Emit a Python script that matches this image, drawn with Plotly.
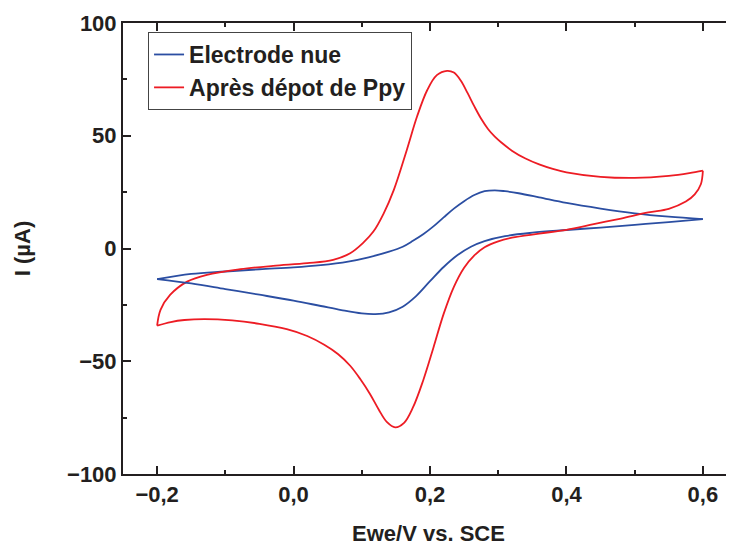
import plotly.graph_objects as go

# Electrode nue (blue) - forward sweep (-0.2 -> 0.6)
blue_fwd_x = [-0.2, -0.15, -0.1, -0.05, 0.0, 0.04, 0.08, 0.11, 0.14, 0.16, 0.175, 0.19, 0.205, 0.22, 0.235, 0.25, 0.265, 0.28, 0.295, 0.31, 0.33, 0.36, 0.40, 0.45, 0.50, 0.55, 0.6]
blue_fwd_y = [-13.6, -11.3, -10.2, -9.2, -8.4, -7.4, -5.8, -3.9, -1.4, 0.8, 3.4, 6.3, 9.8, 13.8, 17.7, 21.0, 23.7, 25.4, 25.8, 25.4, 24.5, 22.7, 20.2, 17.7, 15.6, 14.1, 13.0]
# Electrode nue (blue) - reverse sweep (0.6 -> -0.2)
blue_rev_x = [0.6, 0.55, 0.50, 0.45, 0.40, 0.35, 0.31, 0.28, 0.26, 0.24, 0.22, 0.20, 0.18, 0.16, 0.14, 0.12, 0.10, 0.07, 0.04, 0.0, -0.05, -0.10, -0.15, -0.2]
blue_rev_y = [13.0, 11.7, 10.5, 9.3, 8.2, 7.0, 5.5, 3.3, 0.8, -3.0, -8.2, -14.5, -21.0, -25.8, -28.3, -29.1, -28.8, -27.3, -25.5, -23.1, -20.5, -18.0, -15.5, -13.6]

# Après dépot de Ppy (red) - forward sweep
red_fwd_x = [-0.2, -0.195, -0.181, -0.156, -0.127, -0.078, -0.030, 0.020, 0.058, 0.083, 0.102, 0.117, 0.132, 0.147, 0.166, 0.181, 0.196, 0.210, 0.225, 0.235, 0.245, 0.255, 0.265, 0.275, 0.285, 0.295, 0.305, 0.32, 0.34, 0.36, 0.38, 0.40, 0.45, 0.50, 0.55, 0.58, 0.6]
red_fwd_y = [-34.2, -27.2, -20.6, -14.7, -11.7, -9.2, -7.7, -6.5, -5.0, -2.1, 2.5, 7.5, 15.5, 26.0, 43.7, 58.5, 70.3, 76.9, 78.8, 78.0, 74.5, 69.0, 63.0, 57.5, 53.0, 49.6, 46.9, 43.4, 39.9, 37.3, 35.3, 33.8, 31.8, 31.3, 32.2, 33.4, 34.5]
# Après dépot de Ppy (red) - reverse sweep
red_rev_x = [0.6, 0.597, 0.588, 0.575, 0.55, 0.52, 0.48, 0.44, 0.40, 0.36, 0.32, 0.30, 0.28, 0.265, 0.25, 0.235, 0.22, 0.205, 0.19, 0.175, 0.162, 0.149, 0.137, 0.125, 0.112, 0.098, 0.083, 0.065, 0.045, 0.02, -0.01, -0.05, -0.09, -0.13, -0.16, -0.18, -0.2]
red_rev_y = [34.5, 28.5, 24.0, 20.8, 17.6, 16.0, 13.3, 10.8, 8.3, 6.6, 4.8, 3.2, 0.6, -3.0, -8.5, -17.0, -29.0, -44.0, -58.5, -70.5, -77.3, -79.3, -77.0, -71.5, -64.5, -58.0, -52.0, -46.8, -42.7, -38.8, -35.8, -33.4, -31.9, -31.3, -31.7, -32.6, -34.2]

BLUE = "#2b4ea2"
RED = "#ed1c24"
AXC = "#231f20"
FONT = "Liberation Sans, Arial, sans-serif"
LW = 1.8

fig = go.Figure()
fig.add_trace(go.Scatter(x=blue_fwd_x, y=blue_fwd_y, mode="lines", name="Electrode nue",
                         line=dict(color=BLUE, width=LW, shape="spline", smoothing=1.0)))
fig.add_trace(go.Scatter(x=red_fwd_x, y=red_fwd_y, mode="lines", name="Après dépot de Ppy",
                         line=dict(color=RED, width=LW, shape="spline", smoothing=1.0)))
fig.add_trace(go.Scatter(x=blue_rev_x, y=blue_rev_y, mode="lines", name="Electrode nue",
                         showlegend=False,
                         line=dict(color=BLUE, width=LW, shape="spline", smoothing=1.0)))
fig.add_trace(go.Scatter(x=red_rev_x, y=red_rev_y, mode="lines", name="Après dépot de Ppy",
                         showlegend=False,
                         line=dict(color=RED, width=LW, shape="spline", smoothing=1.0)))

fig.update_layout(
    width=726, height=538,
    margin=dict(l=115, r=0, t=15, b=72, autoexpand=False),
    paper_bgcolor="white", plot_bgcolor="white",
    separators=", ",
    font=dict(family=FONT, size=22, color=AXC, weight="bold"),
    legend=dict(x=0.041, y=0.980, xanchor="left", yanchor="top",
                bordercolor="#444444", borderwidth=1, bgcolor="white",
                font=dict(family=FONT, size=23, color=AXC, weight="bold"),
                tracegroupgap=0),
    xaxis=dict(range=[-0.25, 0.6456], dtick=0.2, tickformat=".1f",
               showgrid=False, zeroline=False, showline=True, linecolor=AXC, linewidth=2,
               mirror="ticks", ticks="inside", ticklen=8, tickwidth=2, tickcolor=AXC,
               ticklabelstandoff=0,
               minor=dict(dtick=0.1, ticks="inside", ticklen=4, tickwidth=2, tickcolor=AXC),
               title=dict(text="Ewe/V vs. SCE", standoff=32, font=dict(size=22)),
               automargin=False),
    yaxis=dict(range=[-100, 100], dtick=50,
               showgrid=False, zeroline=False, showline=True, linecolor=AXC, linewidth=2,
               mirror="ticks", ticks="inside", ticklen=8, tickwidth=2, tickcolor=AXC,
               ticklabelstandoff=0,
               minor=dict(dtick=25, ticks="inside", ticklen=4, tickwidth=2, tickcolor=AXC),
               title=dict(text="I (µA)", standoff=30, font=dict(size=22)),
               automargin=False),
)

fig.write_html("out.html")
